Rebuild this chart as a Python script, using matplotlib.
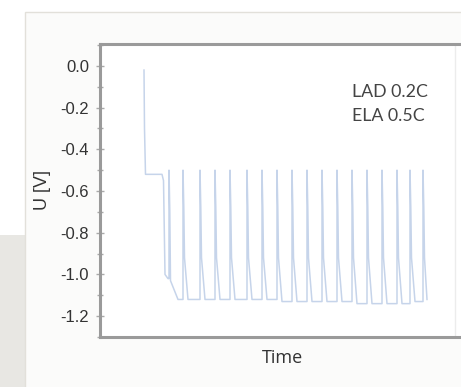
import matplotlib
matplotlib.use("Agg")
import matplotlib.pyplot as plt
from matplotlib.patches import Rectangle
from matplotlib.ticker import MultipleLocator

# ---- data ----
time = [44, 44.5, 45.5, 62, 63.5, 65, 68,
        69, 69, 69.8, 70.5, 78, 83,
        83, 83.8, 84.5, 88, 100,
        100, 100.8, 101.5, 105, 115,
        115, 115.8, 116.5, 120, 130,
        130, 130.8, 131.5, 135, 147,
        147, 147.8, 148.5, 152, 162,
        162, 162.8, 163.5, 167, 177,
        177, 177.8, 178.5, 182, 192,
        192, 192.8, 193.5, 197, 207,
        207, 207.8, 208.5, 212, 222,
        222, 222.8, 223.5, 227, 237,
        237, 237.8, 238.5, 242, 252,
        252, 252.8, 253.5, 257, 267,
        267, 267.8, 268.5, 272, 282,
        282, 282.8, 283.5, 287, 297,
        297, 297.8, 298.5, 302, 310,
        310, 310.8, 311.5, 315, 323,
        323, 323.8, 324.5, 327]
voltage = [-0.02, -0.30, -0.52, -0.52, -0.55, -1.00, -1.02,
           -1.02, -0.50, -0.70, -1.03, -1.12, -1.12,
           -0.50, -0.68, -0.92, -1.12, -1.12,
           -0.50, -0.68, -0.92, -1.12, -1.12,
           -0.50, -0.68, -0.92, -1.12, -1.12,
           -0.50, -0.68, -0.92, -1.12, -1.12,
           -0.50, -0.68, -0.92, -1.12, -1.12,
           -0.50, -0.68, -0.92, -1.12, -1.12,
           -0.50, -0.68, -0.92, -1.13, -1.13,
           -0.50, -0.68, -0.92, -1.13, -1.13,
           -0.50, -0.68, -0.92, -1.13, -1.13,
           -0.50, -0.68, -0.92, -1.13, -1.13,
           -0.50, -0.68, -0.92, -1.13, -1.13,
           -0.50, -0.68, -0.92, -1.14, -1.14,
           -0.50, -0.68, -0.92, -1.14, -1.14,
           -0.50, -0.68, -0.92, -1.14, -1.14,
           -0.50, -0.68, -0.92, -1.14, -1.14,
           -0.50, -0.68, -0.92, -1.13, -1.13,
           -0.50, -0.68, -0.92, -1.12]
yticks = [0.0, -0.2, -0.4, -0.6, -0.8, -1.0, -1.2]
ytick_labels = ["0.0", "-0.2", "-0.4", "-0.6", "-0.8", "-1.0", "-1.2"]
annotation_lines = ["LAD 0.2C", "ELA 0.5C"]

W, H = 461, 387
fig = plt.figure(figsize=(W / 100, H / 100), dpi=100)
fig.patch.set_facecolor("white")

# background panels
fig.patches.append(Rectangle((0, 0), 25 / W, (H - 235) / H, transform=fig.transFigure,
                             facecolor="#e8e7e3", edgecolor="none", zorder=-5))
fig.patches.append(Rectangle((25 / W, -0.01), 1.0, (H - 12) / H + 0.01, transform=fig.transFigure,
                             facecolor="#fbfbfa", edgecolor="#e2e0da", linewidth=1, zorder=-5))

ax = fig.add_axes([100 / W, 50 / H, 400 / W, 293 / H])
ax.set_zorder(5)
ax.set_facecolor("white")
ax.plot(time, voltage, color="#c6d4ea", linewidth=1.1)
ax.axvline(355, color="#ececec", linewidth=1)

ax.set_xlim(0, 400)
ax.set_ylim(-1.30, 0.105)
ax.set_xticks([])
ax.set_yticks(yticks)
ax.set_yticklabels(ytick_labels, fontsize=12, color="#333333", family="Liberation Sans")
ax.yaxis.set_minor_locator(MultipleLocator(0.1))
ax.tick_params(axis="y", which="major", direction="inout", length=6, width=1, color="#aaaaaa", pad=5)
ax.tick_params(axis="y", which="minor", direction="inout", length=4, width=1, color="#aaaaaa")

for s in ["left", "top", "bottom"]:
    ax.spines[s].set_color("#9a9a9a")
    ax.spines[s].set_linewidth(2.2)
ax.spines["right"].set_visible(False)

ax.set_ylabel("U [V]", fontsize=13, color="#333333", family="Liberation Sans", labelpad=7)
ax.set_xlabel("Time", fontsize=13, color="#333333", family="Open Sans", va="center")
ax.xaxis.set_label_coords(182 / 400, -21 / 293)

ax.text(252, -0.125, annotation_lines[0], fontsize=12.8, color="#444444", family="Lato",
        va="center", ha="left")
ax.text(252, -0.24, annotation_lines[1], fontsize=12.8, color="#444444", family="Lato",
        va="center", ha="left")

fig.savefig("out.png", dpi=100)
